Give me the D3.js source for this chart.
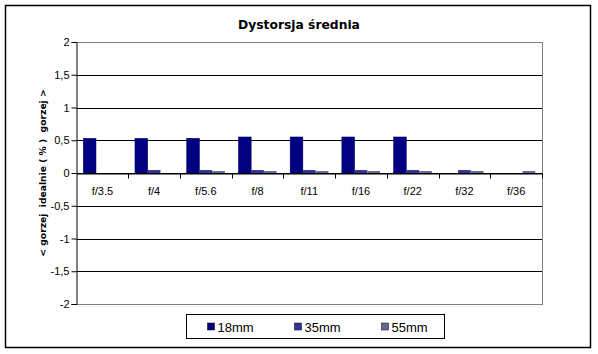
<!DOCTYPE html>
<html>
<head>
<meta charset="utf-8">
<script src="https://cdn.jsdelivr.net/npm/d3@7"></script>
<style>
  body { margin: 0; background: #fff; }
</style>
</head>
<body>
<svg id="chart" width="598" height="354" font-family="Liberation Sans, Arial, sans-serif"></svg>
<script>
// dane
const apertures = ['f/3.5', 'f/4', 'f/5.6', 'f/8', 'f/11', 'f/16', 'f/22', 'f/32', 'f/36'];
const seriesNames = ['18mm', '35mm', '55mm'];
const values18 = [0.53, 0.53, 0.53, 0.55, 0.55, 0.55, 0.55, 0, 0];
const values35 = [0, 0.045, 0.045, 0.045, 0.045, 0.045, 0.045, 0.045, 0];
const values55 = [0, 0, 0.03, 0.03, 0.03, 0.03, 0.03, 0.03, 0.03];
const yTicks = [2, 1.5, 1, 0.5, 0, -0.5, -1, -1.5, -2];
const colors = ['#000080', '#333399', '#666699'];

const allValues = [values18, values35, values55];
const svg = d3.select('#chart');

// ramka wykresu
svg.append('rect')
    .attr('x', 5.5).attr('y', 5.5)
    .attr('width', 585).attr('height', 342)
    .attr('fill', 'white')
    .attr('stroke', '#000')
    .attr('stroke-width', 1.5);

const plot = { left: 76.5, top: 42, right: 542, bottom: 304 };

const x = d3.scaleBand()
    .domain(apertures)
    .range([plot.left, plot.right])
    .paddingInner(0)
    .paddingOuter(0);

const xInner = d3.scaleBand()
    .domain(seriesNames)
    .range([0, x.bandwidth()])
    .paddingInner(0)
    .paddingOuter(0.53);

const y = d3.scaleLinear()
    .domain([-2, 2])
    .range([plot.bottom, plot.top]);

// linie siatki
svg.append('g')
    .selectAll('line')
    .data(yTicks)
    .join('line')
    .attr('x1', plot.left)
    .attr('x2', plot.right)
    .attr('y1', d => Math.round(y(d)) + 0.5)
    .attr('y2', d => Math.round(y(d)) + 0.5)
    .attr('stroke', d => (d === 2 || d === -2) ? '#808080' : '#000')
    .attr('stroke-width', 1);

// prawa krawedz obszaru
svg.append('line')
    .attr('x1', plot.right + 0.5).attr('x2', plot.right + 0.5)
    .attr('y1', y(2)).attr('y2', y(-2) + 1)
    .attr('stroke', '#808080');

// slupki
const groups = svg.append('g')
    .selectAll('g')
    .data(seriesNames)
    .join('g')
    .attr('fill', (d, i) => colors[i]);

groups.selectAll('rect')
    .data((s, si) => apertures.map((a, i) => ({ a, s, v: allValues[si][i] })))
    .join('rect')
    .attr('x', d => x(d.a) + xInner(d.s))
    .attr('width', xInner.bandwidth())
    .attr('y', d => y(Math.max(0, d.v)))
    .attr('height', d => Math.abs(y(d.v) - y(0)))
    .attr('stroke', d => d.s === '18mm' ? '#000060' : 'none')
    .attr('stroke-width', 0.5);

// os Y
const yAxis = d3.axisLeft(y)
    .tickValues(yTicks)
    .tickSize(5)
    .tickFormat(d => String(d).replace('.', ','));
const yg = svg.append('g')
    .attr('transform', `translate(${plot.left},0)`)
    .call(yAxis)
    .attr('font-family', null);
yg.select('.domain').attr('stroke', '#000');
yg.selectAll('.tick line').attr('stroke', '#000');
yg.selectAll('.tick text')
    .attr('font-size', 11)
    .attr('fill', '#000')
    .attr('x', -7);

// os X na zerze
const xAxis = d3.axisBottom(x).tickSize(0).tickFormat(d => d);
const xg = svg.append('g')
    .attr('transform', `translate(0,${Math.round(y(0)) + 0.5})`)
    .call(xAxis)
    .attr('font-family', null);
xg.select('.domain').attr('stroke', '#000');
xg.selectAll('.tick text')
    .attr('font-size', 11)
    .attr('fill', '#000')
    .attr('dy', '1.7em');
// znaczniki kategorii
xg.append('g')
    .selectAll('line')
    .data(apertures.slice(1).concat(['end']))
    .join('line')
    .attr('x1', (d, i) => Math.round(plot.left + x.step() * (i + 1)) + 0.5)
    .attr('x2', (d, i) => Math.round(plot.left + x.step() * (i + 1)) + 0.5)
    .attr('y1', 0).attr('y2', 5)
    .attr('stroke', '#000');

// tytul
svg.append('text')
    .attr('x', 299).attr('y', 29)
    .attr('text-anchor', 'middle')
    .attr('font-weight', 'bold')
    .attr('font-size', 12.3)
    .attr('font-family', 'DejaVu Sans, sans-serif')
    .text('Dystorsja średnia');

// opis osi Y
svg.append('text')
    .attr('transform', `translate(46,${(plot.top + plot.bottom) / 2}) rotate(-90)`)
    .attr('text-anchor', 'middle')
    .attr('font-weight', 'bold')
    .attr('font-size', 9.2)
    .attr('font-family', 'DejaVu Sans, sans-serif')
    .style('white-space', 'pre')
    .text('< gorzej  idealnie ( % )  gorzej >');

// legenda
const legend = svg.append('g').attr('transform', 'translate(186.5,314.5)');
legend.append('rect')
    .attr('width', 258).attr('height', 24)
    .attr('fill', 'white')
    .attr('stroke', '#000');
const legendX = d3.scalePoint().domain(seriesNames).range([21, 195]);
const items = legend.selectAll('g.item')
    .data(seriesNames)
    .join('g')
    .attr('class', 'item')
    .attr('transform', d => `translate(${legendX(d)},0)`);
items.append('rect')
    .attr('x', 0).attr('y', 8.5)
    .attr('width', 7).attr('height', 7)
    .attr('fill', (d, i) => colors[i])
    .attr('stroke', '#000')
    .attr('stroke-width', 0.5);
items.append('text')
    .attr('x', 10).attr('y', 17)
    .attr('font-size', 13)
    .text(d => d);
</script>
</body>
</html>
